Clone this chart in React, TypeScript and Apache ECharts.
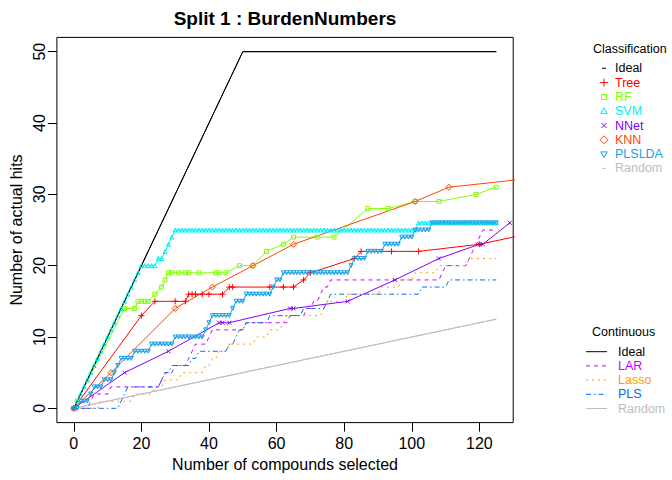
import React, { useEffect, useRef } from "react";
import * as echarts from "echarts";

// ---------- data ----------
const xTicks = [0, 20, 40, 60, 80, 100, 120];
const yTicks = [0, 10, 20, 30, 40, 50];

const idealX = [0, 50, 125];
const idealY = [0, 50, 50];
const randomX = [0, 125];
const randomY = [0, 12.5];

const treeX = [0, 20, 24, 30, 33, 34, 35, 36, 38, 40, 44, 46, 47, 58, 62, 65, 68, 70, 83, 85, 94, 102, 120, 140];
const treeY = [0, 13, 15, 15, 15, 16, 16, 16, 16, 16, 16, 17, 17, 17, 17, 17, 18, 19, 21, 22, 22, 22, 23, 25];

const rfX = [0, 1, 15, 18, 19, 20, 21, 22, 24, 26, 27, 28, 29, 31, 33, 34, 37, 42, 43, 45, 49, 53, 57, 62, 65, 72, 77, 87, 93, 101, 108, 119, 125];
const rfY = [0, 1, 14, 14, 15, 15, 15, 15, 16, 17, 18, 19, 19, 19, 19, 19, 19, 19, 19, 19, 20, 20, 22, 23, 24, 24, 24, 28, 28, 29, 29, 30, 31];

const nnetX = [0, 15, 28, 43, 44, 46, 64, 65, 81, 95, 108, 120, 121, 129];
const nnetY = [0, 5, 8, 12, 12, 12, 14, 14, 15, 18, 21, 23, 23, 26];

const knnX = [0, 11, 30, 41, 53, 65, 101, 111, 150];
const knnY = [0, 5, 14, 17, 20, 23, 29, 31, 33];

// hits per number of compounds selected (index = compounds 0..125)
const svmHits = [
  0, 1, 2, 3, 4, 5, 6, 7, 8, 9,
  10, 11, 12, 13, 14, 15, 16, 17, 18, 19,
  20, 20, 20, 20, 20, 21, 21, 22, 23, 24,
  25, 25, 25, 25, 25, 25, 25, 25, 25, 25,
  25, 25, 25, 25, 25, 25, 25, 25, 25, 25,
  25, 25, 25, 25, 25, 25, 25, 25, 25, 25,
  25, 25, 25, 25, 25, 25, 25, 25, 25, 25,
  25, 25, 25, 25, 25, 25, 25, 25, 25, 25,
  25, 25, 25, 25, 25, 25, 25, 25, 25, 25,
  25, 25, 25, 25, 25, 25, 25, 25, 25, 25,
  25, 25, 26, 26, 26, 26, 26, 26, 26, 26,
  26, 26, 26, 26, 26, 26, 26, 26, 26, 26,
  26, 26, 26, 26, 26, 26,
];

const plsldaHits = [
  0, 0, 1, 1, 1, 2, 3, 3, 3, 4,
  4, 4, 5, 6, 7, 7, 7, 7, 8, 8,
  8, 8, 8, 9, 9, 9, 9, 9, 9, 9,
  10, 10, 10, 10, 10, 10, 10, 10, 10, 11,
  12, 13, 13, 13, 13, 13, 13, 14, 15, 15,
  15, 16, 16, 16, 16, 16, 16, 16, 16, 17,
  18, 18, 19, 19, 19, 19, 19, 19, 19, 19,
  19, 19, 19, 19, 19, 19, 19, 19, 19, 19,
  19, 19, 20, 21, 21, 21, 21, 22, 22, 22,
  22, 22, 23, 23, 23, 23, 23, 24, 24, 24,
  24, 25, 25, 25, 25, 25, 26, 26, 26, 26,
  26, 26, 26, 26, 26, 26, 26, 26, 26, 26,
  26, 26, 26, 26, 26, 26,
];

const larHits = [
  0, 0, 0, 0, 0, 1, 2, 2, 2, 2,
  2, 3, 3, 3, 3, 3, 3, 3, 3, 3,
  3, 3, 3, 3, 3, 3, 4, 5, 5, 5,
  6, 6, 6, 6, 7, 8, 9, 9, 9, 9,
  10, 11, 11, 11, 11, 11, 11, 11, 11, 11,
  11, 12, 12, 12, 12, 12, 12, 12, 12, 12,
  12, 12, 12, 12, 13, 13, 13, 13, 13, 14,
  14, 15, 15, 16, 17, 17, 18, 18, 18, 18,
  18, 18, 18, 18, 18, 18, 18, 18, 18, 18,
  18, 18, 18, 18, 18, 18, 18, 18, 18, 18,
  18, 18, 18, 18, 18, 18, 18, 18, 18, 19,
  20, 20, 20, 20, 20, 20, 20, 21, 22, 23,
  24, 25, 25, 25, 25, 25,
];

const lassoHits = [
  0, 0, 0, 0, 0, 0, 0, 0, 1, 1,
  1, 1, 1, 1, 1, 1, 1, 1, 2, 2,
  2, 2, 2, 2, 3, 3, 3, 4, 4, 4,
  4, 4, 5, 5, 5, 5, 5, 5, 5, 6,
  6, 7, 7, 8, 8, 8, 9, 9, 9, 9,
  9, 9, 9, 9, 10, 10, 10, 10, 11, 11,
  11, 11, 12, 13, 13, 13, 13, 13, 13, 13,
  13, 13, 13, 13, 14, 15, 15, 15, 15, 15,
  15, 16, 16, 16, 16, 16, 16, 16, 16, 16,
  16, 17, 17, 17, 17, 17, 17, 18, 18, 18,
  18, 19, 19, 19, 19, 19, 19, 19, 20, 20,
  20, 20, 20, 20, 20, 20, 20, 21, 21, 21,
  21, 21, 21, 21, 21, 21,
];

const plsHits = [
  0, 0, 0, 0, 0, 0, 0, 0, 0, 0,
  0, 0, 0, 0, 1, 2, 3, 3, 3, 3,
  3, 3, 3, 3, 3, 3, 4, 5, 5, 6,
  6, 6, 6, 6, 6, 7, 7, 8, 8, 8,
  8, 8, 8, 8, 8, 8, 9, 9, 10, 11,
  11, 12, 12, 12, 12, 12, 12, 12, 13, 13,
  13, 13, 13, 13, 13, 13, 13, 13, 14, 14,
  14, 14, 14, 14, 14, 15, 16, 16, 16, 16,
  16, 16, 16, 16, 16, 16, 16, 16, 16, 16,
  16, 16, 16, 16, 16, 16, 16, 16, 16, 16,
  16, 16, 16, 17, 17, 17, 17, 17, 17, 17,
  17, 18, 18, 18, 18, 18, 18, 18, 18, 18,
  18, 18, 18, 18, 18, 18,
];

const classNames = ["Ideal", "Tree", "RF", "SVM", "NNet", "KNN", "PLSLDA", "Random"];
const contNames = ["Ideal", "LAR", "Lasso", "PLS", "Random"];

// ---------- styles ----------
const FONT = "'Liberation Sans', Arial, sans-serif";
const C = {
  ideal: "#000000",
  tree: "#FF0000",
  rf: "#7FFF00",
  svm: "#00EEF0",
  nnet: "#8000FF",
  knn: "#FF4500",
  plslda: "#18A0E8",
  random: "#BEBEBE",
  lar: "#C800FF",
  lasso: "#FF9A00",
  pls: "#0066FF",
};
const classColors = [C.ideal, C.tree, C.rf, C.svm, C.nnet, C.knn, C.plslda, C.random];
const contColors = [C.ideal, C.lar, C.lasso, C.pls, C.random];
const contDash: any[] = ["solid", [4, 4], [2, 4], [5, 3, 1.5, 3], "solid"];

const PLUS = "path://M0,5L10,5M5,0L5,10";
const CROSS = "path://M0,0L10,10M0,10L10,0";

const pairs = (xs: number[], ys: number[]) => xs.map((x, i) => [x, ys[i]]);
const byIndex = (ys: number[]) => ys.map((y, i) => [i, y]);

function line(name: string, data: number[][], color: string, o: any = {}) {
  return {
    type: "line",
    name,
    data,
    clip: true,
    silent: true,
    animation: false,
    symbol: o.symbol || "none",
    showSymbol: !!o.symbol,
    symbolSize: o.size || 6,
    symbolRotate: o.rotate || 0,
    itemStyle: { color: "rgba(0,0,0,0)", borderColor: color, borderWidth: 1 },
    lineStyle: { color, width: 1, type: o.dash || "solid" },
    emphasis: { disabled: true },
  };
}

function legendSymbol(kind: string, cx: number, cy: number, color: string): any[] {
  const s = { stroke: color, fill: "none", lineWidth: 1 };
  switch (kind) {
    case "dash":
      return [{ type: "line", shape: { x1: cx - 2, y1: cy, x2: cx + 2, y2: cy }, style: s }];
    case "plus":
      return [
        { type: "line", shape: { x1: cx - 4, y1: cy, x2: cx + 4, y2: cy }, style: s },
        { type: "line", shape: { x1: cx, y1: cy - 4, x2: cx, y2: cy + 4 }, style: s },
      ];
    case "square":
      return [{ type: "rect", shape: { x: cx - 2.5, y: cy - 2.5, width: 5, height: 5 }, style: s }];
    case "tri":
      return [{ type: "polygon", shape: { points: [[cx, cy - 3.5], [cx + 3.2, cy + 2.2], [cx - 3.2, cy + 2.2]] }, style: s }];
    case "cross":
      return [
        { type: "line", shape: { x1: cx - 2.5, y1: cy - 2.5, x2: cx + 2.5, y2: cy + 2.5 }, style: s },
        { type: "line", shape: { x1: cx - 2.5, y1: cy + 2.5, x2: cx + 2.5, y2: cy - 2.5 }, style: s },
      ];
    case "diamond":
      return [{ type: "polygon", shape: { points: [[cx, cy - 4], [cx + 4, cy], [cx, cy + 4], [cx - 4, cy]] }, style: s }];
    case "itri":
      return [{ type: "polygon", shape: { points: [[cx - 3.2, cy - 2.2], [cx + 3.2, cy - 2.2], [cx, cy + 3.5]] }, style: s }];
  }
  return [];
}

function buildGraphic() {
  const els: any[] = [];
  els.push({
    type: "text",
    x: 285,
    y: 18,
    style: { text: "Split 1 : BurdenNumbers", font: `bold 19px ${FONT}`, fill: "#000", align: "center", verticalAlign: "middle" },
  });
  els.push({
    type: "text",
    x: 593,
    y: 49,
    style: { text: "Classification", font: `12.5px ${FONT}`, fill: "#000", align: "left", verticalAlign: "middle" },
  });
  const kinds = ["dash", "plus", "square", "tri", "cross", "diamond", "itri", "dash"];
  classNames.forEach((n, i) => {
    const cy = 68.3 + i * 14.3;
    els.push(...legendSymbol(kinds[i], 604, cy, classColors[i]));
    els.push({
      type: "text",
      x: 615,
      y: cy,
      style: { text: n, font: `12.5px ${FONT}`, fill: classColors[i], align: "left", verticalAlign: "middle" },
    });
  });
  els.push({
    type: "text",
    x: 592,
    y: 331.7,
    style: { text: "Continuous", font: `12.5px ${FONT}`, fill: "#000", align: "left", verticalAlign: "middle" },
  });
  contNames.forEach((n, i) => {
    const cy = 351.7 + i * 14.2;
    const d = contDash[i];
    els.push({
      type: "line",
      shape: { x1: 586, y1: cy, x2: 607, y2: cy },
      style: { stroke: contColors[i], lineWidth: 1, lineDash: d === "solid" ? null : d },
    });
    els.push({
      type: "text",
      x: 618,
      y: cy,
      style: { text: n, font: `12.5px ${FONT}`, fill: contColors[i], align: "left", verticalAlign: "middle" },
    });
  });
  return els;
}

export default function App() {
  const ref = useRef<HTMLDivElement>(null);
  useEffect(() => {
    const chart = echarts.init(ref.current!, null, { renderer: "svg" });
    const axisText = { fontSize: 16, color: "#000", fontFamily: FONT };
    const option: any = {
      animation: false,
      backgroundColor: "#fff",
      grid: {
        left: 56.07,
        right: 158.8,
        top: 37.4,
        bottom: 57.4,
        show: true,
        borderColor: "#000",
        borderWidth: 1,
        backgroundColor: "rgba(0,0,0,0)",
        containLabel: false,
      },
      xAxis: {
        type: "value",
        min: -5,
        max: 130,
        axisLine: { show: false, onZero: false },
        axisTick: { show: true, length: 9, lineStyle: { color: "#000", width: 1 }, customValues: xTicks },
        axisLabel: { ...axisText, margin: 13, customValues: xTicks },
        splitLine: { show: false },
        name: "Number of compounds selected",
        nameLocation: "middle",
        nameGap: 31,
        nameTextStyle: axisText,
      },
      yAxis: {
        type: "value",
        min: -2,
        max: 52,
        axisLine: { show: false, onZero: false },
        axisTick: { show: true, length: 9, lineStyle: { color: "#000", width: 1 }, customValues: yTicks },
        axisLabel: { ...axisText, margin: 9, rotate: 90, customValues: yTicks },
        splitLine: { show: false },
        name: "Number of actual hits",
        nameLocation: "middle",
        nameGap: 26,
        nameTextStyle: axisText,
      },
      series: [
        line("Ideal", pairs(idealX, idealY), C.ideal),
        line("Tree", pairs(treeX, treeY), C.tree, { symbol: PLUS, size: 6 }),
        line("RF", pairs(rfX, rfY), C.rf, { symbol: "rect", size: 4 }),
        line("SVM", byIndex(svmHits), C.svm, { symbol: "triangle", size: 4 }),
        line("NNet", pairs(nnetX, nnetY), C.nnet, { symbol: CROSS, size: 4 }),
        line("KNN", pairs(knnX, knnY), C.knn, { symbol: "diamond", size: 6 }),
        line("PLSLDA", byIndex(plsldaHits), C.plslda, { symbol: "triangle", size: 4, rotate: 180 }),
        line("Random", pairs(randomX, randomY), C.random),
        line("Ideal (continuous)", pairs(idealX, idealY), C.ideal),
        line("LAR", byIndex(larHits), C.lar, { dash: contDash[1] }),
        line("Lasso", byIndex(lassoHits), C.lasso, { dash: contDash[2] }),
        line("PLS", byIndex(plsHits), C.pls, { dash: contDash[3] }),
        line("Random (continuous)", pairs(randomX, randomY), C.random),
      ],
      graphic: { elements: buildGraphic() },
    };
    chart.setOption(option);
    return () => chart.dispose();
  }, []);
  return (
    <div
      ref={ref}
      style={{ position: "absolute", left: 0, top: 0, width: 672, height: 480, background: "#fff" }}
    />
  );
}
